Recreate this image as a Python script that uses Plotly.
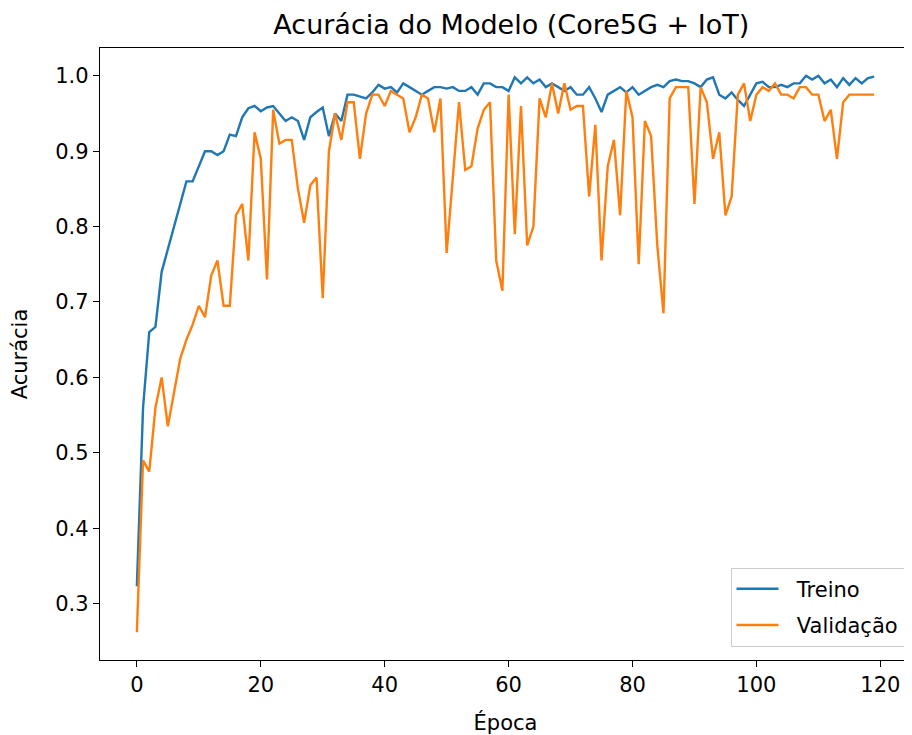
import plotly.graph_objects as go

epochs = list(range(120))

treino = [
    0.323, 0.56, 0.66, 0.667, 0.74, 0.77, 0.80, 0.83, 0.86, 0.86,
    0.88, 0.90, 0.90, 0.895, 0.90, 0.922, 0.92, 0.945, 0.957, 0.96,
    0.953, 0.958, 0.96, 0.95, 0.94, 0.945, 0.94, 0.915, 0.945, 0.952,
    0.958, 0.92, 0.95, 0.94, 0.975, 0.975, 0.972, 0.97, 0.978, 0.988,
    0.983, 0.985, 0.978, 0.99, 0.985, 0.98, 0.975, 0.98, 0.985, 0.985,
    0.983, 0.985, 0.98, 0.98, 0.985, 0.975, 0.99, 0.99, 0.985, 0.985,
    0.98, 0.998, 0.99, 0.998, 0.99, 0.995, 0.985, 0.99, 0.985, 0.98,
    0.985, 0.975, 0.975, 0.985, 0.97, 0.952, 0.975, 0.98, 0.985, 0.978,
    0.985, 0.975, 0.98, 0.985, 0.988, 0.985, 0.993, 0.995, 0.993, 0.993,
    0.99, 0.985, 0.995, 0.998, 0.975, 0.97, 0.978, 0.968, 0.96, 0.975,
    0.99, 0.992, 0.985, 0.985, 0.988, 0.985, 0.99, 0.99, 1.0, 0.995,
    1.0, 0.99, 0.995, 0.985, 0.997, 0.988, 0.997, 0.99, 0.997, 0.999,
]

validacao = [
    0.262, 0.49, 0.475, 0.56, 0.60, 0.535, 0.58, 0.625, 0.65, 0.67,
    0.695, 0.68, 0.735, 0.755, 0.695, 0.695, 0.815, 0.83, 0.755, 0.925,
    0.89, 0.73, 0.955, 0.91, 0.915, 0.915, 0.85, 0.805, 0.855, 0.865,
    0.705, 0.90, 0.95, 0.915, 0.965, 0.965, 0.89, 0.95, 0.975, 0.975,
    0.96, 0.98, 0.975, 0.97, 0.925, 0.945, 0.975, 0.97, 0.925, 0.97,
    0.765, 0.86, 0.965, 0.875, 0.88, 0.93, 0.955, 0.965, 0.755, 0.715,
    0.975, 0.79, 0.96, 0.775, 0.80, 0.97, 0.945, 0.99, 0.95, 0.99,
    0.955, 0.96, 0.96, 0.84, 0.935, 0.755, 0.88, 0.915, 0.815, 0.98,
    0.945, 0.75, 0.94, 0.92, 0.775, 0.685, 0.97, 0.985, 0.985, 0.985,
    0.83, 0.985, 0.965, 0.89, 0.925, 0.815, 0.84, 0.975, 0.99, 0.94,
    0.975, 0.985, 0.98, 0.99, 0.975, 0.975, 0.97, 0.985, 0.985, 0.975,
    0.975, 0.94, 0.955, 0.89, 0.965, 0.975, 0.975, 0.975, 0.975, 0.975,
]

title_text = "Acurácia do Modelo (Core5G + IoT)"
x_title = "Época"
y_title = "Acurácia"
x_ticks = [0, 20, 40, 60, 80, 100, 120]
y_ticks = [0.3, 0.4, 0.5, 0.6, 0.7, 0.8, 0.9, 1.0]
series_names = ["Treino", "Validação"]

font_family = "DejaVu Sans"
pad = "\u00a0\u00a0"

fig = go.Figure()
fig.add_trace(go.Scatter(x=epochs, y=treino, mode="lines", name=pad + series_names[0],
                         legendgroup="a",
                         line=dict(color="#1f77b4", width=2.4)))
fig.add_trace(go.Scatter(x=epochs, y=validacao, mode="lines", name=pad + series_names[1],
                         legendgroup="b",
                         line=dict(color="#ff7f0e", width=2.4)))

axis_common = dict(showgrid=False, zeroline=False, showline=True, linecolor="black",
                   linewidth=1.3, mirror=True, ticks="outside", ticklen=6, tickwidth=1.3,
                   tickcolor="black", tickfont=dict(family=font_family, size=21, color="black"))

fig.update_layout(
    width=904, height=727,
    paper_bgcolor="white", plot_bgcolor="white",
    margin=dict(l=92, r=1, t=40, b=75),
    font=dict(family=font_family, color="black"),
    title=dict(text=title_text, x=0.5567, xanchor="center", y=0.977, yanchor="middle",
               font=dict(family=font_family, size=27, color="black")),
    xaxis=dict(range=[-5.95, 124.95], tickvals=x_ticks,
               title=dict(text=x_title, font=dict(family=font_family, size=21), standoff=20),
               **axis_common),
    yaxis=dict(range=[0.2251, 1.0369], tickvals=y_ticks, tickformat=".1f",
               title=dict(text=y_title, font=dict(family=font_family, size=21), standoff=24),
               **axis_common),
    legend=dict(x=0.992, y=0.022, xanchor="right", yanchor="bottom",
                bgcolor="rgba(255,255,255,0.8)", bordercolor="#cccccc", borderwidth=1,
                font=dict(family=font_family, size=21, color="black"),
                itemwidth=42, tracegroupgap=6, traceorder="grouped"),
    showlegend=True,
)

fig.write_html("out.html")
